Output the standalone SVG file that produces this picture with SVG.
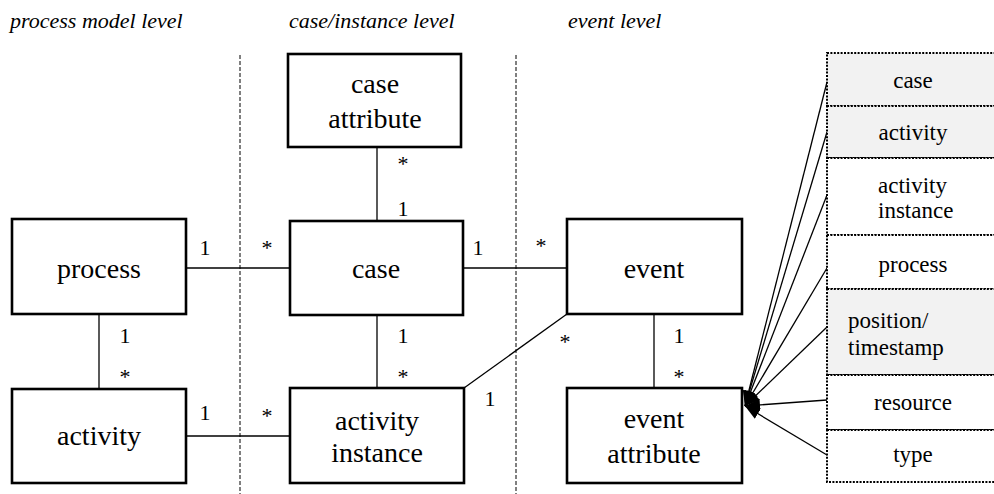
<svg xmlns="http://www.w3.org/2000/svg" width="994" height="494" viewBox="0 0 994 494">
<defs>
<style>
text{font-family:"Liberation Serif","Tinos","DejaVu Serif","Noto Serif","Times New Roman",serif;fill:#000}
.box{fill:#fff;stroke:#000;stroke-width:2.6}
.lbl{font-size:28px;text-anchor:middle}
.hdr{font-size:22px;font-style:italic}
.m{font-size:22px;text-anchor:middle}
.ln{stroke:#000;stroke-width:1.3;fill:none}
.dash{stroke:#000;stroke-width:1;stroke-dasharray:4,2;fill:none}
.row{stroke:#000;stroke-width:2;stroke-dasharray:2,1.4}
.g{fill:#f2f2f2}
.w{fill:#fff}
.st{font-size:23px}
.c{text-anchor:middle}
</style>
<marker id="ah" markerUnits="userSpaceOnUse" markerWidth="18" markerHeight="14" refX="15" refY="6" orient="auto">
<path d="M0,0 L15,6 L0,12 z" fill="#000"/>
</marker>
</defs>

<g id="headers">
<text class="hdr" x="10" y="28" font-family="Liberation Serif, DejaVu Serif, serif">process model level</text>
<text class="hdr" x="289" y="28" font-family="Liberation Serif, DejaVu Serif, serif">case/instance level</text>
<text class="hdr" x="568" y="28" font-family="Liberation Serif, DejaVu Serif, serif">event level</text>
</g>

<g id="separators">
<line class="dash" x1="240" y1="55" x2="240" y2="494"/>
<line class="dash" x1="516" y1="55" x2="516" y2="494"/>
</g>

<g id="connectors">
<line class="ln" x1="186" y1="268" x2="290" y2="268"/>
<line class="ln" x1="463" y1="268" x2="567" y2="268"/>
<line class="ln" x1="186" y1="436" x2="290" y2="436"/>
<line class="ln" x1="99" y1="314" x2="99" y2="389"/>
<line class="ln" x1="377" y1="147" x2="377" y2="221"/>
<line class="ln" x1="377" y1="315" x2="377" y2="388"/>
<line class="ln" x1="654" y1="314" x2="654" y2="388"/>
<line class="ln" x1="464" y1="388" x2="567" y2="314"/>
<g id="attr-arrows">
<line class="ln" x1="827" y1="82" x2="745" y2="406" marker-end="url(#ah)"/>
<line class="ln" x1="827" y1="132" x2="745" y2="406" marker-end="url(#ah)"/>
<line class="ln" x1="827" y1="195" x2="745" y2="406" marker-end="url(#ah)"/>
<line class="ln" x1="827" y1="268" x2="745" y2="406" marker-end="url(#ah)"/>
<line class="ln" x1="827" y1="327" x2="745" y2="406" marker-end="url(#ah)"/>
<line class="ln" x1="827" y1="400" x2="745" y2="406" marker-end="url(#ah)"/>
<line class="ln" x1="827" y1="455" x2="745" y2="406" marker-end="url(#ah)"/>
</g>
</g>

<g id="multiplicities">
<text class="m" x="205" y="255">1</text>
<text class="m" x="267" y="255">*</text>
<text class="m" x="478" y="255">1</text>
<text class="m" x="541" y="253">*</text>
<text class="m" x="403" y="171">*</text>
<text class="m" x="403" y="216">1</text>
<text class="m" x="125" y="343">1</text>
<text class="m" x="125" y="384">*</text>
<text class="m" x="403" y="343">1</text>
<text class="m" x="403" y="384">*</text>
<text class="m" x="679" y="343">1</text>
<text class="m" x="679" y="384">*</text>
<text class="m" x="205" y="420">1</text>
<text class="m" x="267" y="423">*</text>
<text class="m" x="565" y="349">*</text>
<text class="m" x="490" y="406">1</text>
</g>

<g id="case-attribute">
<rect class="box" x="288" y="54" width="173" height="93"/>
<text class="lbl" x="375" y="93">case</text>
<text class="lbl" x="375" y="128">attribute</text>
</g>
<g id="process">
<rect class="box" x="12" y="219" width="174" height="95"/>
<text class="lbl" x="99" y="278">process</text>
</g>
<g id="case">
<rect class="box" x="290" y="221" width="173" height="94"/>
<text class="lbl" x="376" y="278">case</text>
</g>
<g id="event">
<rect class="box" x="567" y="219" width="175" height="95"/>
<text class="lbl" x="654" y="278">event</text>
</g>
<g id="activity">
<rect class="box" x="12" y="389" width="174" height="94"/>
<text class="lbl" x="99" y="445">activity</text>
</g>
<g id="activity-instance">
<rect class="box" x="290" y="388" width="174" height="95"/>
<text class="lbl" x="377" y="430">activity</text>
<text class="lbl" x="377" y="462">instance</text>
</g>
<g id="event-attribute">
<rect class="box" x="567" y="388" width="175" height="95"/>
<text class="lbl" x="654" y="428">event</text>
<text class="lbl" x="654" y="463">attribute</text>
</g>

<g id="attribute-list">
<g id="attr-case"><rect class="row g" x="827" y="53" width="180" height="53"/><text class="st c" x="913" y="88">case</text></g>
<g id="attr-activity"><rect class="row g" x="827" y="106" width="180" height="52"/><text class="st c" x="913" y="140">activity</text></g>
<g id="attr-activity-instance"><rect class="row w" x="827" y="158" width="180" height="77"/><text class="st" x="878" y="193">activity</text><text class="st" x="878" y="218">instance</text></g>
<g id="attr-process"><rect class="row w" x="827" y="235" width="180" height="54"/><text class="st c" x="913" y="272">process</text></g>
<g id="attr-position"><rect class="row g" x="827" y="289" width="180" height="86"/><text class="st" x="848" y="328">position/</text><text class="st" x="848" y="355">timestamp</text></g>
<g id="attr-resource"><rect class="row w" x="827" y="375" width="180" height="55"/><text class="st c" x="913" y="410">resource</text></g>
<g id="attr-type"><rect class="row w" x="827" y="430" width="180" height="52"/><text class="st c" x="913" y="462">type</text></g>
</g>
</svg>
